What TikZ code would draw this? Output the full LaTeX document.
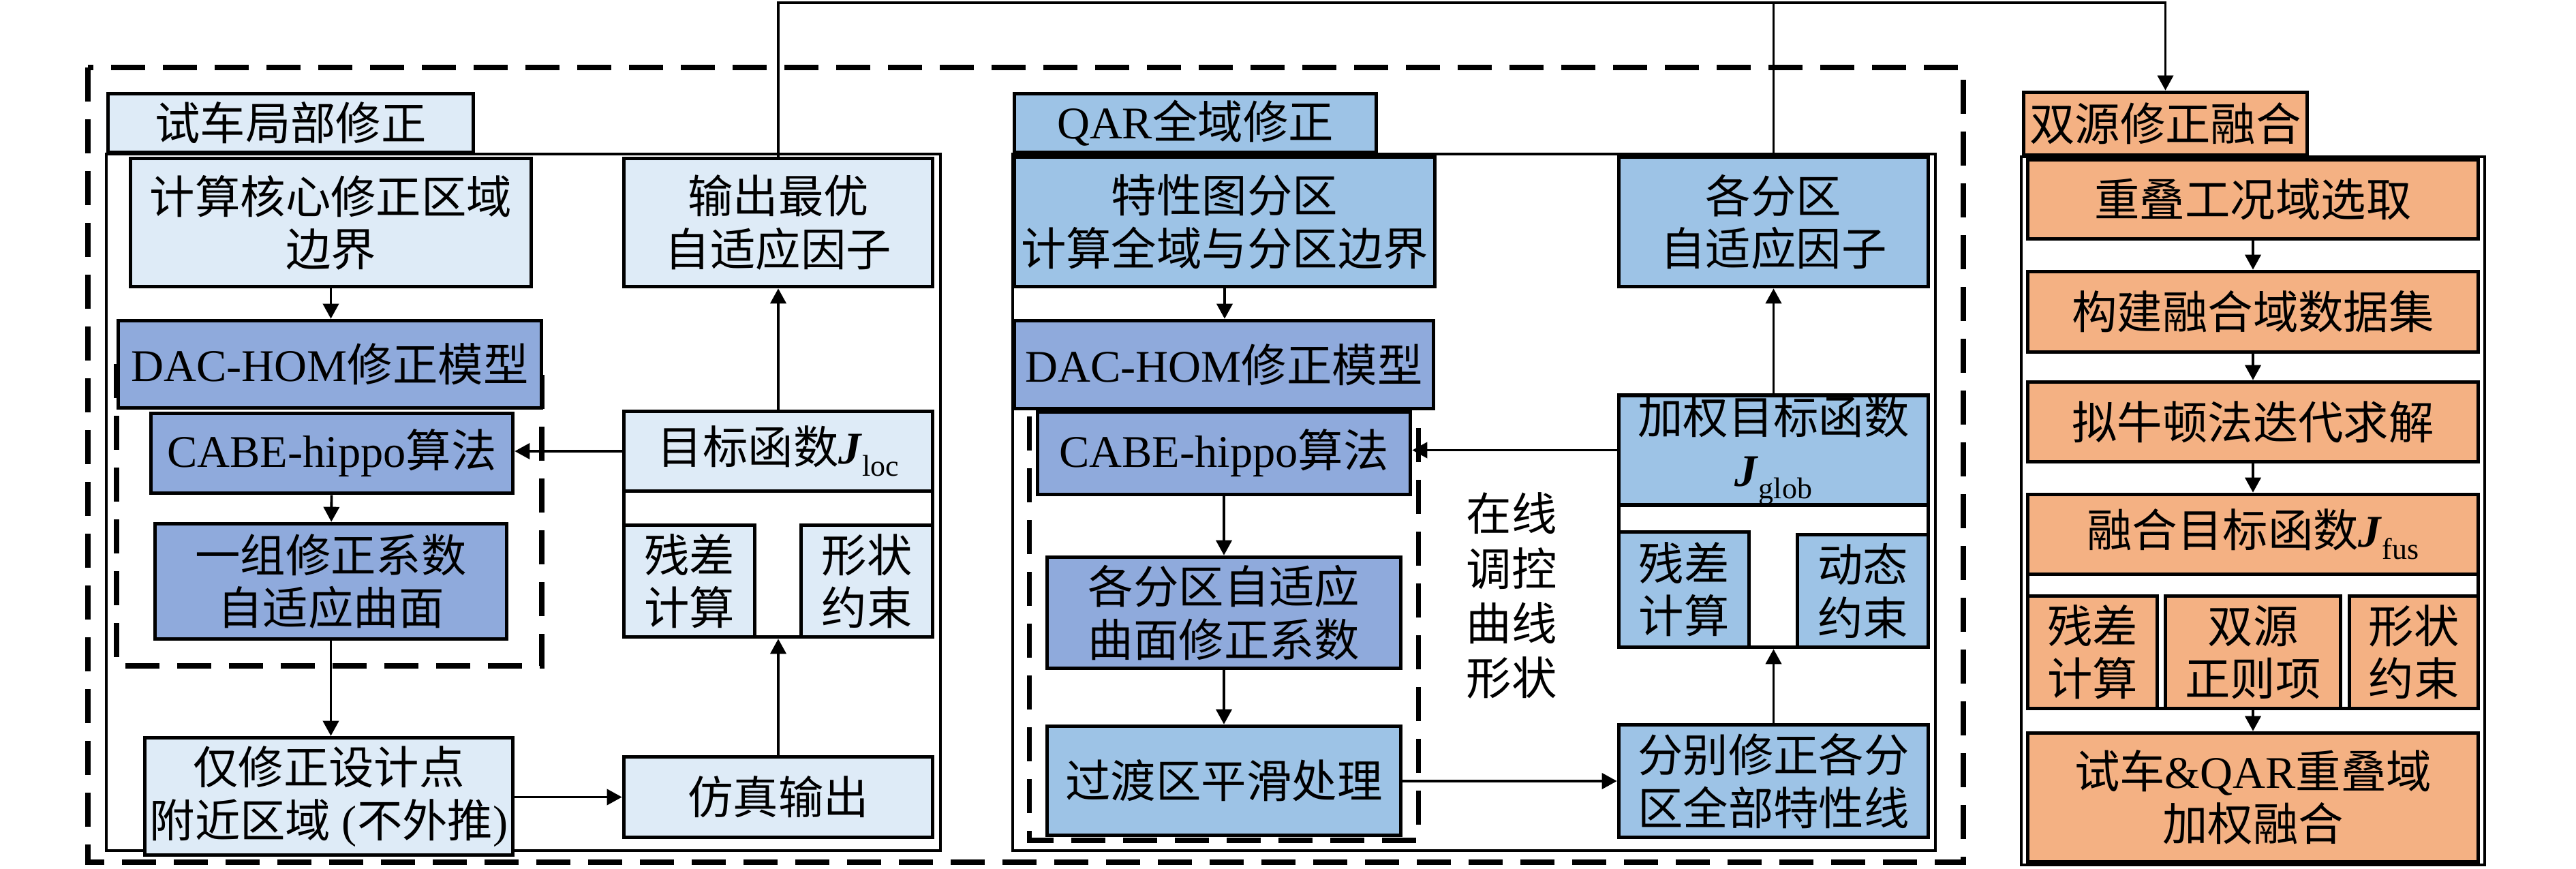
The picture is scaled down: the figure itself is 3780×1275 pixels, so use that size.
\documentclass[tikz,border=0pt]{standalone}
\usepackage{fontspec}
\setmainfont{Liberation Serif}
\newfontfamily\cjk{Noto Sans CJK SC}
\usepackage{tikz}
\usetikzlibrary{arrows.meta, positioning}
\definecolor{paleblue}{HTML}{DEEBF7}
\definecolor{skyblue}{HTML}{9DC3E6}
\definecolor{steelblue}{HTML}{8FAADC}
\definecolor{peach}{HTML}{F4B183}
\tikzstyle{arrow} = [line width=1.1pt, -{Triangle[length=2.2mm, width=2.3mm]}]
\tikzstyle{feed} = [line width=1.1pt]
\tikzstyle{block} = [rectangle, draw=black, line width=1.6pt, align=center, inner sep=0pt, font=\cjk\fontsize{18.9}{22}\selectfont]
\tikzstyle{grpbox} = [rectangle, draw=black, line width=1.6pt, fill=white, inner sep=0pt]
\tikzstyle{panelframe} = [draw=black, line width=1.4pt]
\tikzstyle{zonebox} = [draw=black, line width=2.2pt, dash pattern=on 5mm off 2.6mm]
\newcommand{\Jvar}[1]{\textrm{\bfseries\itshape J}\raisebox{-0.5ex}{\textrm{\fontsize{12.5}{12.5}\selectfont #1}}}

\begin{document}
\begin{tikzpicture}[x=0.1mm, y=-0.1mm]
\useasboundingbox (0,0) rectangle (3780,1275);

\draw[zonebox] (129,99) rectangle (2881,1265);
\draw[panelframe] (156,226) rectangle (1380,1248);
\draw[panelframe] (1486,226) rectangle (2840,1248);
\draw[panelframe] (2966,230) rectangle (3646,1269);
\draw[zonebox, line width=2pt] (171,534) rectangle (795,977);
\draw[zonebox, line width=2pt] (1510,535) rectangle (2081,1233);

% 试车局部修正
\node[block, fill=paleblue, minimum width=53.6mm, minimum height=8.6mm] (tabL) at (426.5,180.5) {试车局部修正};
\node[block, fill=paleblue, minimum width=58.8mm, minimum height=18.8mm] (calcL) at (485.5,326.5) {计算核心修正区域\\边界};
\node[block, fill=paleblue, minimum width=45.3mm, minimum height=18.8mm] (outL) at (1142,326.5) {输出最优\\自适应因子};
\node[block, fill=steelblue, minimum width=62.1mm, minimum height=12.8mm] (modelL) at (484,534.5) {\textrm{DAC-HOM}修正模型};
\node[block, fill=steelblue, minimum width=53.1mm, minimum height=11.7mm] (cabeL) at (487,665) {\textrm{CABE-hippo}算法};
\node[block, fill=steelblue, minimum width=51.6mm, minimum height=16.9mm] (coefL) at (485.5,853) {一组修正系数\\自适应曲面};
\node[grpbox, minimum width=45.3mm, minimum height=33.1mm] (grpL) at (1142,769) {};
\node[block, fill=paleblue, minimum width=45.3mm, minimum height=11.7mm] (objL) at (1142,662) {目标函数\Jvar{loc}};
\node[block, fill=paleblue, minimum width=19.2mm, minimum height=16.4mm] (resL) at (1011.5,852.5) {残差\\计算};
\node[block, fill=paleblue, minimum width=19.3mm, minimum height=16.4mm] (shapeL) at (1272,852.5) {形状\\约束};
\node[block, fill=paleblue, minimum width=54mm, minimum height=17.2mm] (limL) at (482.5,1168.5) {仅修正设计点\\附近区域\textrm{ (}不外推\textrm{)}};
\node[block, fill=paleblue, minimum width=45.3mm, minimum height=11.8mm] (simL) at (1142,1169.5) {仿真输出};

% QAR全域修正
\node[block, fill=skyblue, minimum width=53.1mm, minimum height=8.6mm] (tabM) at (1754,180.5) {\textrm{QAR}全域修正};
\node[block, fill=skyblue, minimum width=61.7mm, minimum height=19mm] (partM) at (1797,325.5) {特性图分区\\计算全域与分区边界};
\node[block, fill=skyblue, minimum width=45.4mm, minimum height=19mm] (outM) at (2602.5,325.5) {各分区\\自适应因子};
\node[block, fill=steelblue, minimum width=61.5mm, minimum height=12.9mm] (modelM) at (1796,535) {\textrm{DAC-HOM}修正模型};
\node[block, fill=steelblue, minimum width=54.7mm, minimum height=12.1mm] (cabeM) at (1796,665) {\textrm{CABE-hippo}算法};
\node[block, fill=steelblue, minimum width=51.9mm, minimum height=16.3mm] (coefM) at (1796,899) {各分区自适应\\曲面修正系数};
\node[block, fill=skyblue, minimum width=51.9mm, minimum height=16mm] (smoothM) at (1796,1145.5) {过渡区平滑处理};
\node[grpbox, minimum width=45.4mm, minimum height=36.9mm] (grpM) at (2602.5,765) {};
\node[block, fill=skyblue, minimum width=45.4mm, minimum height=16mm] (objM) at (2602.5,660.5) {加权目标函数\\\Jvar{glob}};
\node[block, fill=skyblue, minimum width=19.1mm, minimum height=16.9mm] (resM) at (2471,865) {残差\\计算};
\node[block, fill=skyblue, minimum width=19.2mm, minimum height=16.5mm] (dynM) at (2733.5,867) {动态\\约束};
\node[block, fill=skyblue, minimum width=45.4mm, minimum height=16.5mm] (corrM) at (2602.5,1146) {分别修正各分\\区全部特性线};
\node[font=\cjk\fontsize{18.9}{22.8}\selectfont, align=center] (tuneM) at (2218,874) {在线\\调控\\曲线\\形状};

% 双源修正融合
\node[block, fill=peach, minimum width=41.6mm, minimum height=9.2mm] (tabR) at (3177.5,181.5) {双源修正融合};
\node[block, fill=peach, minimum width=66.1mm, minimum height=11.6mm] (selR) at (3306,292.5) {重叠工况域选取};
\node[block, fill=peach, minimum width=66.1mm, minimum height=11.8mm] (dataR) at (3306,457.5) {构建融合域数据集};
\node[block, fill=peach, minimum width=66.1mm, minimum height=11.7mm] (solveR) at (3306,619) {拟牛顿法迭代求解};
\node[grpbox, minimum width=66.1mm, minimum height=31.4mm] (grpR) at (3306,882.5) {};
\node[block, fill=peach, minimum width=66.1mm, minimum height=11.7mm] (objR) at (3306,784) {融合目标函数\Jvar{fus}};
\node[block, fill=peach, minimum width=19mm, minimum height=16.5mm] (resR) at (3070.5,957) {残差\\计算};
\node[block, fill=peach, minimum width=25.7mm, minimum height=16.5mm] (regR) at (3306,957) {双源\\正则项};
\node[block, fill=peach, minimum width=18.9mm, minimum height=16.5mm] (shapeR) at (3542,957) {形状\\约束};
\node[block, fill=peach, minimum width=66.1mm, minimum height=18.9mm] (fuseR) at (3306,1170) {试车\textrm{\&QAR}重叠域\\加权融合};

\draw[arrow] (calcL.south) -- (calcL.south |- modelL.north);
\draw[arrow] (cabeL) -- (coefL);
\draw[arrow] (coefL.south) -- (coefL.south |- limL.north);
\draw[arrow] (limL.east |- simL) -- (simL.west);
\draw[arrow] (simL) -- (grpL);
\draw[arrow] (objL) -- (outL);
\draw[arrow] (objL.west) -- (objL.west -| cabeL.east);
\coordinate (ridge) at (1142,4);
\draw[arrow] (outL.north) -- (ridge) -| (tabR.north);
\draw[feed] (outM.north) -- (outM.north |- ridge);

\draw[arrow] (partM.south) -- (partM.south |- modelM.north);
\draw[arrow] (cabeM) -- (coefM);
\draw[arrow] (coefM) -- (smoothM);
\draw[arrow] (smoothM.east |- corrM) -- (corrM.west);
\draw[arrow] (corrM) -- (grpM);
\draw[arrow] (objM) -- (outM);
\draw[arrow] (objM.west) -- (objM.west -| cabeM.east);

\draw[arrow] (selR) -- (dataR);
\draw[arrow] (dataR) -- (solveR);
\draw[arrow] (solveR) -- (grpR);
\draw[arrow] (grpR) -- (fuseR);
\end{tikzpicture}
\end{document}
